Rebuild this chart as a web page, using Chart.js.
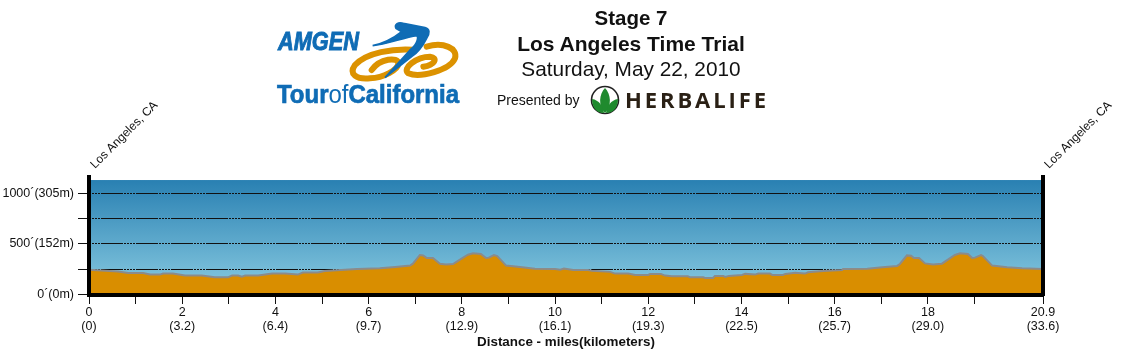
<!DOCTYPE html>
<html>
<head>
<meta charset="utf-8">
<title>Stage 7 profile</title>
<script src="https://cdn.jsdelivr.net/npm/chart.js@4"></script>
<style>
  html, body { margin: 0; padding: 0; background: #fff; }
  #wrap { position: relative; width: 1121px; height: 354px; overflow: hidden; }
  #myChart { position: absolute; left: 0; top: 0; }
  #header { position: absolute; left: 0; top: 0; }
  #header text { font-family: "Liberation Sans", Arial, sans-serif; }
</style>
</head>
<body>
<div id="wrap">
  <canvas id="myChart" width="1121" height="354"></canvas>
  <svg id="header" width="1121" height="125" viewBox="0 0 1121 125">
    <!-- title block -->
    <text x="631" y="25" text-anchor="middle" font-size="20.5" font-weight="bold" fill="#111">Stage 7</text>
    <text x="631" y="51" text-anchor="middle" font-size="21" font-weight="bold" fill="#111">Los Angeles Time Trial</text>
    <text x="631" y="76" text-anchor="middle" font-size="20.8" fill="#111">Saturday, May 22, 2010</text>
    <text x="497" y="105" font-size="14" fill="#111">Presented by</text>

    <!-- tour logo -->
    <g transform="translate(270 15) scale(0.3333)">
      <g fill="none" stroke="#dc9200" stroke-width="18" stroke-linecap="round">
        <path d="M430 104C370 100 290 112 255 150C235 178 260 194 300 190C340 188 385 165 385 145C385 125 330 130 305 165"/>
        <path d="M470 95C520 80 565 100 555 130C540 165 450 190 415 175C395 160 440 125 480 125C505 128 495 150 460 155"/>
      </g>
      <path fill="#0f6cb5" stroke="#0f6cb5" stroke-width="5" d="M308 92C340 85 370 70 395 50L378 40C372 28 385 20 400 25L465 38C480 42 480 55 470 70C455 100 440 115 425 125L345 188L420 105C445 85 445 65 440 62C400 68 350 88 308 92Z"/>
    </g>
    <text x="278" y="50" font-size="25" font-weight="bold" font-style="italic" fill="#0f6cb5" stroke="#0f6cb5" stroke-width="0.9" textLength="81" lengthAdjust="spacingAndGlyphs">AMGEN</text>
    <text x="277" y="103" font-size="26" font-weight="bold" fill="#0f6cb5" stroke="#0f6cb5" stroke-width="0.7" textLength="182" lengthAdjust="spacingAndGlyphs">Tour<tspan font-weight="normal" stroke-width="0">of</tspan>California</text>

    <!-- sponsor logo -->
    <circle cx="605" cy="100" r="13.5" fill="#fff" stroke="#222" stroke-width="1.6"/>
    <path fill="#1f8a2e" d="M605 88C599 94 598 106 605 113C612 106 611 94 605 88Z"/>
    <path fill="#1f8a2e" d="M592 99C599 100 603 106 604 113C596 113 592 107 592 99Z"/>
    <path fill="#1f8a2e" d="M618 99C611 100 607 106 606 113C614 113 618 107 618 99Z"/>
    <text x="625" y="108" font-size="22" font-weight="bold" fill="#2a2015" textLength="141" style="font-family:'Open Sans',sans-serif">HERBALIFE</text>
  </svg>
</div>
<script>
// elevation profile, feet against miles
const miles = [
  0, 0.62, 0.84, 1.16, 1.31, 1.52, 1.59, 1.80, 2.06, 2.42, 2.70, 2.98, 3.07, 3.20, 3.28, 3.35, 3.63, 3.93,
  4.21, 4.48, 4.59, 4.91, 5.06, 5.75, 6.24, 6.57, 6.89, 6.95, 7.10, 7.17, 7.25, 7.38, 7.53, 7.66, 7.81,
  7.96, 8.13, 8.24, 8.41, 8.52, 8.58, 8.69, 8.76, 8.95, 9.25, 9.57, 10.0, 10.11, 10.19, 10.39, 10.71,
  10.79, 11.18, 11.29, 11.57, 11.72, 12.0, 12.04, 12.27, 12.36, 12.51, 12.85, 12.9, 13.18, 13.22, 13.39,
  13.43, 13.61, 13.65, 13.73, 14.01, 14.08, 14.29, 14.36, 14.61, 14.66, 14.89, 14.94, 15.15, 15.36,
  15.43, 15.75, 16.16, 16.18, 16.70, 17.02, 17.34, 17.40, 17.55, 17.64, 17.70, 17.81, 17.94, 18.11,
  18.30, 18.43, 18.58, 18.69, 18.86, 18.95, 19.01, 19.14, 19.18, 19.38, 19.70, 20.02, 20.47,
];
const elevation = [
  246, 227, 212, 212, 197, 197, 207, 207, 187, 187, 170, 170, 187, 187, 177, 187, 187, 207,
  207, 197, 217, 217, 232, 253, 259, 273, 286, 305, 391, 387, 361, 361, 305, 296, 302,
  345, 394, 407, 401, 361, 365, 391, 381, 286, 273, 256, 253, 246, 256, 243, 243,
  236, 224, 207, 207, 194, 194, 204, 204, 187, 180, 180, 170, 170, 164, 164,
  184, 184, 174, 184, 194, 204, 197, 207, 207, 194, 194, 204, 214, 207,
  220, 233, 243, 253, 256, 269, 283, 302, 387, 384, 361, 361, 308, 296,
  305, 345, 391, 407, 401, 361, 365, 391, 381, 286, 269, 259, 253,
];

// axis labels
const elevationTicks = [0, 250, 500, 750, 1000];
const elevationLabels = { 0: '0´(0m)', 500: '500´(152m)', 1000: '1000´(305m)' };
const distanceTicks = [0, 1, 2, 3, 4, 5, 6, 7, 8, 9, 10, 11, 12, 13, 14, 15, 16, 17, 18, 19, 20.47];
const distanceLabels = {
  0: ['0', '(0)'], 2: ['2', '(3.2)'], 4: ['4', '(6.4)'], 6: ['6', '(9.7)'], 8: ['8', '(12.9)'],
  10: ['10', '(16.1)'], 12: ['12', '(19.3)'], 14: ['14', '(22.5)'], 16: ['16', '(25.7)'],
  18: ['18', '(29.0)'], 20.47: ['20.9', '(33.6)'],
};
const placeNames = ['Los Angeles, CA', 'Los Angeles, CA'];
const placeMiles = [0, 20.47];

const axisFont = { family: '"Liberation Sans", Arial, sans-serif', size: 12.5 };
const skyTop = 1133;

// sky goes under the grid, the grid goes under the ground
const skyPlugin = {
  id: 'sky',
  beforeDraw(chart) {
    const { ctx, chartArea, scales } = chart;
    const top = scales.y.getPixelForValue(skyTop);
    const gradient = ctx.createLinearGradient(0, top, 0, chartArea.bottom);
    gradient.addColorStop(0, '#2980b2');
    gradient.addColorStop(1, '#8accE2');
    ctx.save();
    ctx.fillStyle = gradient;
    ctx.fillRect(chartArea.left, top, chartArea.right - chartArea.left, chartArea.bottom - top);
    ctx.restore();
  },
};

const placeLabelPlugin = {
  id: 'placeLabels',
  afterDraw(chart) {
    const { ctx, chartArea, scales } = chart;
    ctx.save();
    ctx.fillStyle = '#111';
    ctx.font = '12px ' + axisFont.family;
    placeNames.forEach((name, i) => {
      ctx.save();
      ctx.translate(scales.x.getPixelForValue(placeMiles[i]) + 6, chartArea.top - 8);
      ctx.rotate(-Math.PI / 4);
      ctx.fillText(name, 0, 0);
      ctx.restore();
    });
    ctx.restore();
  },
};

const config = {
  type: 'line',
  data: {
    labels: miles,
    datasets: [
      {
        label: 'Elevation',
        data: miles.map((mile, index) => ({ x: mile, y: elevation[index] })),
        borderColor: '#8b8b8b',
        borderWidth: 2,
        backgroundColor: '#d98e00',
        fill: 'origin',
        pointRadius: 0,
        tension: 0,
      },
    ],
  },
  plugins: [skyPlugin, placeLabelPlugin],
  options: {
    responsive: false,
    animation: false,
    layout: { padding: { top: 177, left: 0, right: 0, bottom: 0 } },
    plugins: { legend: { display: false }, tooltip: { enabled: false } },
    scales: {
      x: {
        type: 'linear',
        min: 0,
        max: 20.47,
        afterBuildTicks: (scale) => { scale.ticks = distanceTicks.map((value) => ({ value })); },
        afterFit: (scale) => { scale.height = 59; },
        grid: { drawOnChartArea: false, color: '#111', tickLength: 9 },
        border: { color: '#000', width: 4, z: 1 },
        ticks: {
          autoSkip: false,
          maxRotation: 0,
          minRotation: 0,
          color: '#111',
          padding: 2,
          font: { ...axisFont, lineHeight: 1.08 },
          callback: (value) => distanceLabels[value] || '',
        },
        title: {
          display: true,
          text: 'Distance - miles(kilometers)',
          color: '#111',
          font: { ...axisFont, size: 13.4, weight: 'bold' },
          padding: { top: 0, bottom: 4 },
        },
      },
      y: {
        min: -5,
        max: 1163,
        afterBuildTicks: (scale) => { scale.ticks = elevationTicks.map((value) => ({ value })); },
        afterFit: (scale) => { scale.width = 89; },
        grid: { color: '#111', lineWidth: 1, tickLength: 11 },
        border: { color: '#000', width: 4, z: 1, dash: [22, 1, 2, 1, 2, 1, 2, 1, 2, 1], dashOffset: 25 },
        ticks: {
          color: '#111',
          padding: 4,
          font: axisFont,
          callback: (value) => elevationLabels[value] || '',
        },
      },
      yRight: {
        position: 'right',
        min: -5,
        max: 1163,
        afterFit: (scale) => { scale.width = 78; },
        grid: { display: false },
        border: { color: '#000', width: 4, z: 1 },
        ticks: { display: false },
      },
    },
  },
};

const myChart = new Chart(document.getElementById('myChart'), config);
</script>
</body>
</html>
